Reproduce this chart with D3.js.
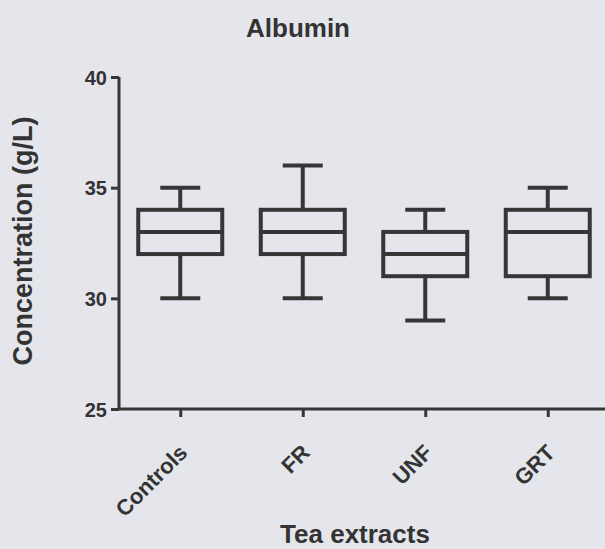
<!DOCTYPE html>
<html>
<head>
<meta charset="utf-8">
<script src="https://cdn.jsdelivr.net/npm/d3@7"></script>
<style>
  html, body { margin: 0; padding: 0; background: #e5e6eb; }
  svg { display: block; }
  text { font-family: "Liberation Sans", Arial, sans-serif; font-weight: bold; fill: #333; }
</style>
</head>
<body>
<svg id="chart" width="605" height="549"></svg>
<script>
// Albumin concentration by tea extract group (g/L)
const categories = ["Controls", "FR", "UNF", "GRT"];
const minValues    = [30, 30, 29, 30];
const q1Values     = [32, 32, 31, 31];
const medianValues = [33, 33, 32, 33];
const q3Values     = [34, 34, 33, 34];
const maxValues    = [35, 36, 34, 35];
const yTicks = [25, 30, 35, 40];

const ink = "#363636";
const svg = d3.select("#chart");

const x = d3.scalePoint().domain(categories).range([119, 609]).padding(0.5);
const y = d3.scaleLinear().domain([25, 40]).range([409, 77]);

const boxes = categories.map((c, i) => ({
  c, min: minValues[i], q1: q1Values[i], med: medianValues[i], q3: q3Values[i], max: maxValues[i]
}));

// Axes
const yAxis = svg.append("g").attr("transform", "translate(119,0)")
  .call(d3.axisLeft(y).tickValues(yTicks).tickSize(8).tickPadding(4));
const xAxis = svg.append("g").attr("transform", "translate(0,409)")
  .call(d3.axisBottom(x).tickSize(8).tickSizeOuter(0));

[yAxis, xAxis].forEach(g => {
  g.select(".domain").attr("stroke", ink).attr("stroke-width", 3);
  g.selectAll(".tick line").attr("stroke", ink).attr("stroke-width", 3);
});
yAxis.select(".domain").attr("d", "M0,409V77");
xAxis.select(".domain").attr("d", "M119,0H609");
yAxis.selectAll(".tick text").attr("font-size", 20).attr("fill", "#333").attr("dy", "0.36em");
xAxis.selectAll(".tick text")
  .attr("font-size", 22).attr("fill", "#333")
  .attr("text-anchor", "end")
  .attr("x", 0).attr("y", 0).attr("dy", 0)
  .attr("transform", "translate(8,45) rotate(-45)");

// Box plots
const boxW = 84, capW = 40;
const g = svg.append("g").attr("fill", "none").attr("stroke", ink).attr("stroke-width", 4);
boxes.forEach(b => {
  const cx = x(b.c);
  g.append("line").attr("x1", cx).attr("x2", cx).attr("y1", y(b.max)).attr("y2", y(b.q3));
  g.append("line").attr("x1", cx).attr("x2", cx).attr("y1", y(b.q1)).attr("y2", y(b.min));
  g.append("line").attr("x1", cx - capW / 2).attr("x2", cx + capW / 2).attr("y1", y(b.max)).attr("y2", y(b.max));
  g.append("line").attr("x1", cx - capW / 2).attr("x2", cx + capW / 2).attr("y1", y(b.min)).attr("y2", y(b.min));
  g.append("rect").attr("x", cx - boxW / 2).attr("width", boxW)
    .attr("y", y(b.q3)).attr("height", y(b.q1) - y(b.q3));
  g.append("line").attr("x1", cx - boxW / 2).attr("x2", cx + boxW / 2).attr("y1", y(b.med)).attr("y2", y(b.med));
});

// Titles
svg.append("text").attr("x", 298).attr("y", 37).attr("text-anchor", "middle")
  .attr("font-size", 26).text("Albumin");
svg.append("text").attr("transform", "translate(32,241) rotate(-90)").attr("text-anchor", "middle")
  .attr("font-size", 27).text("Concentration (g/L)");
svg.append("text").attr("x", 355).attr("y", 543).attr("text-anchor", "middle")
  .attr("font-size", 26).text("Tea extracts");
</script>
</body>
</html>
